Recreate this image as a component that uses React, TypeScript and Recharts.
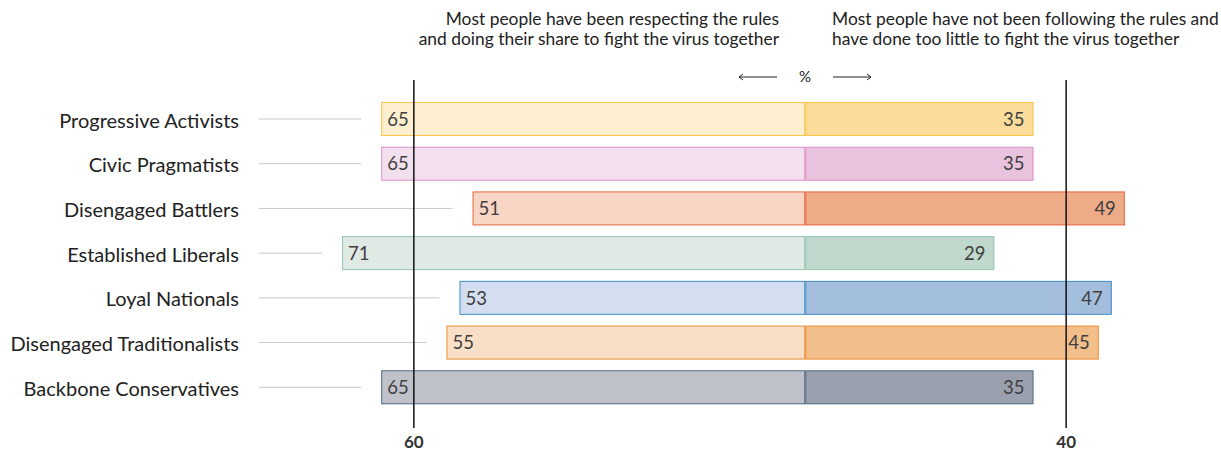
import { BarChart, Bar, XAxis, YAxis, ReferenceLine, LabelList, Cell } from "recharts"

const groups = [
  "Progressive Activists",
  "Civic Pragmatists",
  "Disengaged Battlers",
  "Established Liberals",
  "Loyal Nationals",
  "Disengaged Traditionalists",
  "Backbone Conservatives",
]
const respecting = [65, 65, 51, 71, 53, 55, 65]
const notFollowing = [35, 35, 49, 29, 47, 45, 35]
const referenceMarks = [60, 40]

const leftFills = ["#fdefd0", "#f3e0ef", "#f8d5c4", "#e0eae5", "#d3dff0", "#f9dfc7", "#c0c2cb"]
const rightFills = ["#fbdc9b", "#e9c2dd", "#eeab88", "#c1d8cd", "#a3bddc", "#f2be8a", "#9ba0ae"]
const borders = ["#f8c548", "#dd90c3", "#e5643f", "#93c4af", "#3f8cc7", "#ec8d33", "#4f6880"]

const data = groups.map((name, i) => ({
  name,
  respecting: -respecting[i],
  notFollowing: notFollowing[i],
}))

const FONT = "Lato, 'Noto Sans', sans-serif"

function LeftBar(props: any) {
  const { x, y, width, height, index } = props
  const left = Math.min(x, x + width)
  const w = Math.abs(width)
  const cy = y + height / 2
  return (
    <g>
      <line x1={259} x2={left - 20} y1={cy} y2={cy} stroke="#c9c9c9" strokeWidth={1} />
      <rect x={left + 0.5} y={y + 0.5} width={w - 1} height={height - 1} fill={leftFills[index]} stroke={borders[index]} />
    </g>
  )
}

function RightBar(props: any) {
  const { x, y, width, height, index } = props
  return (
    <rect x={x + 0.5} y={y + 0.5} width={width - 1} height={height - 1} fill={rightFills[index]} stroke={borders[index]} />
  )
}

function LeftValue(props: any) {
  const { x, y, width, height, index } = props
  const left = Math.min(x, x + width)
  return (
    <text x={left + 6} y={y + height / 2} dy="0.36em" fontSize={18.5} fill="#404040" fontFamily={FONT}>
      {respecting[index]}
    </text>
  )
}

function RightValue(props: any) {
  const { x, y, width, height, index } = props
  return (
    <text x={x + width - 9} y={y + height / 2} dy="0.36em" textAnchor="end" fontSize={18.5} fill="#404040" fontFamily={FONT}>
      {notFollowing[index]}
    </text>
  )
}

function GroupTick(props: any) {
  const { x, y, payload } = props
  return (
    <text x={x - 69} y={y + 1} dy="0.36em" textAnchor="end" fontSize={20} fill="#222" fontFamily={FONT}>
      {payload.value}
    </text>
  )
}

function Header() {
  return (
    <svg width={1221} height={90} style={{ position: "absolute", left: 0, top: 0, pointerEvents: "none" }}>
      <g fontFamily={FONT} fontSize={17.4} fill="#222">
        <text x={779} y={25} textAnchor="end">Most people have been respecting the rules</text>
        <text x={779} y={45} textAnchor="end">and doing their share to fight the virus together</text>
        <text x={832} y={25}>Most people have not been following the rules and</text>
        <text x={832} y={45}>have done too little to fight the virus together</text>
        <text x={805} y={82} textAnchor="middle" fontSize={15}>%</text>
      </g>
      <g stroke="#222" strokeWidth={1} fill="none">
        <line x1={739} x2={777} y1={77} y2={77} />
        <polyline points="743,74 739,77 743,80" />
        <line x1={833} x2={871} y1={77} y2={77} />
        <polyline points="867,74 871,77 867,80" />
      </g>
    </svg>
  )
}

export default function App() {
  return (
    <div style={{ position: "absolute", left: 0, top: 0, width: 1221, height: 452, background: "#fff" }}>
      <BarChart
        width={1221}
        height={452}
        data={data}
        layout="vertical"
        stackOffset="sign"
        margin={{ top: 80, right: 57, bottom: 24, left: 0 }}
      >
        <XAxis type="number" domain={[-75, 55]} hide />
        <YAxis
          type="category"
          dataKey="name"
          width={316}
          axisLine={false}
          tickLine={false}
          padding={{ top: 17, bottom: 18 }}
          tick={<GroupTick />}
          interval={0}
        />
        <Bar dataKey="respecting" stackId="a" barSize={34} shape={<LeftBar />} isAnimationActive={false}>
          {data.map((d, i) => (
            <Cell key={d.name} fill={leftFills[i]} />
          ))}
          <LabelList content={<LeftValue />} />
        </Bar>
        <Bar dataKey="notFollowing" stackId="a" barSize={34} shape={<RightBar />} isAnimationActive={false}>
          {data.map((d, i) => (
            <Cell key={d.name} fill={rightFills[i]} />
          ))}
          <LabelList content={<RightValue />} />
        </Bar>
        <ReferenceLine
          x={-referenceMarks[0]}
          stroke="#111"
          strokeWidth={1.5}
          label={{ value: String(referenceMarks[0]), position: "bottom", offset: 8, fontSize: 17, fontWeight: 700, fill: "#333", fontFamily: FONT }}
        />
        <ReferenceLine
          x={referenceMarks[1]}
          stroke="#111"
          strokeWidth={1.5}
          label={{ value: String(referenceMarks[1]), position: "bottom", offset: 8, fontSize: 17, fontWeight: 700, fill: "#333", fontFamily: FONT }}
        />
      </BarChart>
      <Header />
    </div>
  )
}
